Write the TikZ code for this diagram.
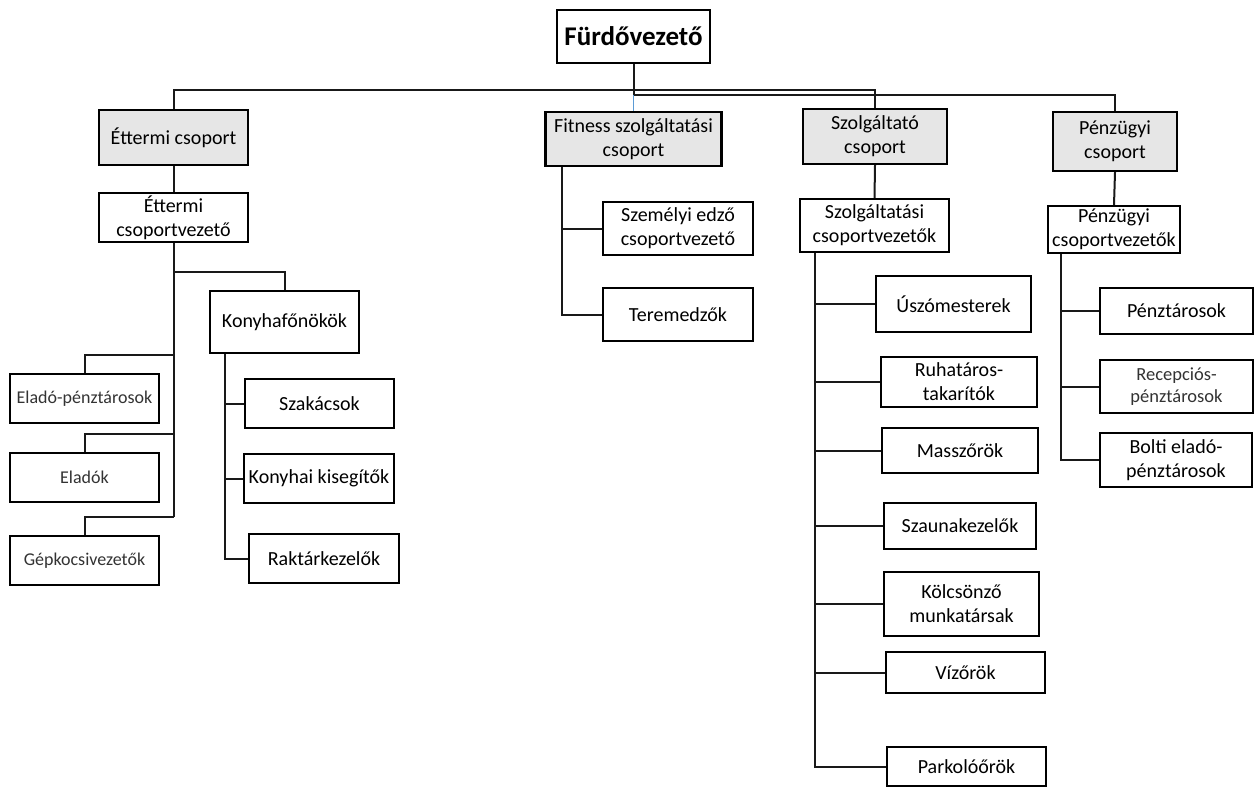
\documentclass[tikz,border=0pt]{standalone}
\usepackage{fontspec}
\setmainfont{Carlito}
\definecolor{grpfill}{HTML}{E6E6E6}
\definecolor{linkblue}{HTML}{5B9BD5}
\definecolor{softtext}{HTML}{333333}
\tikzset{
  box/.style={draw=black, line width=2.2pt, fill=white, align=center, inner sep=0pt,
    font=\fontsize{20}{24}\selectfont},
  grp/.style={box, fill=grpfill},
  small/.style={font=\fontsize{18}{22}\selectfont, text=softtext},
  link/.style={draw=black!90, line width=2pt},
}
\begin{document}
\begin{tikzpicture}[x=1pt,y=-1pt]
\useasboundingbox (0,0) rectangle (1255,788);

% top level
\node[box, font=\bfseries\fontsize{27}{31}\selectfont, minimum width=153pt, minimum height=53pt] (root) at (633.5,36.5) {Fürdővezető};

% groups
\node[grp, minimum width=149pt, minimum height=55pt] (g1) at (173.5,137.5) {Éttermi csoport};
\node[grp, minimum width=176pt, minimum height=54pt] (g2) at (633.5,139) {Fitness szolgáltatási\\csoport};
\node[grp, minimum width=144pt, minimum height=55pt] (g3) at (875,136.5) {Szolgáltató\\csoport};
\node[grp, minimum width=124pt, minimum height=59pt] (g4) at (1115,141.5) {Pénzügyi\\csoport};

% restaurant branch
\node[box, minimum width=149pt, minimum height=49pt] (e0) at (173.5,217.5) {Éttermi\\csoportvezető};
\node[box, minimum width=149pt, minimum height=62pt] (k0) at (284.5,322) {Konyhafőnökök};
\node[box, minimum width=149pt, minimum height=49pt] (k1) at (319.5,403.5) {Szakácsok};
\node[box, minimum width=150pt, minimum height=49pt] (k2) at (319,478.5) {Konyhai kisegítők};
\node[box, minimum width=150pt, minimum height=49pt] (k3) at (324,558.5) {Raktárkezelők};
\node[box, small, minimum width=149pt, minimum height=49pt] (e1) at (84.5,398.5) {Eladó-pénztárosok};
\node[box, small, minimum width=149pt, minimum height=49pt] (e2) at (84.5,477.5) {Eladók};
\node[box, small, minimum width=149pt, minimum height=49pt] (e3) at (84.5,560.5) {Gépkocsivezetők};

% fitness branch
\node[box, minimum width=150pt, minimum height=53pt] (f1) at (678,228.5) {Személyi edző\\csoportvezető};
\node[box, minimum width=150pt, minimum height=53pt] (f2) at (678,314.5) {Teremedzők};

% service branch
\node[box, minimum width=149pt, minimum height=53pt] (s0) at (874.5,225.5) {Szolgáltatási\\csoportvezetők};
\node[box, minimum width=155pt, minimum height=56pt] (s1) at (953.5,304) {Úszómesterek};
\node[box, minimum width=156pt, minimum height=50pt] (s2) at (959,382) {Ruhatáros-\\takarítók};
\node[box, minimum width=156pt, minimum height=45pt] (s3) at (960,450.5) {Masszőrök};
\node[box, minimum width=152pt, minimum height=46pt] (s4) at (960,526) {Szaunakezelők};
\node[box, minimum width=155pt, minimum height=64pt] (s5) at (961.5,604) {Kölcsönző\\munkatársak};
\node[box, minimum width=159pt, minimum height=41pt] (s6) at (965.5,672.5) {Vízőrök};
\node[box, minimum width=159pt, minimum height=39pt] (s7) at (966.5,766.5) {Parkolóőrök};

% finance branch
\node[box, minimum width=132pt, minimum height=47pt] (p0) at (1114,229.5) {Pénzügyi\\csoportvezetők};
\node[box, minimum width=153pt, minimum height=46pt] (p1) at (1176.5,311) {Pénztárosok};
\node[box, small, font=\fontsize{18.5}{22}\selectfont, minimum width=153pt, minimum height=53pt] (p2) at (1176.5,386.5) {Recepciós-\\pénztárosok};
\node[box, minimum width=152pt, minimum height=54pt] (p3) at (1176,460) {Bolti eladó-\\pénztárosok};

% bus levels and bracket columns
\coordinate (busA) at (0,90);
\coordinate (busB) at (0,95);
\coordinate (jk) at (0,272);
\coordinate (j1) at (0,355);
\coordinate (j2) at (0,434);
\coordinate (j3) at (0,517);
\coordinate (kx) at (225,0);
\coordinate (fx) at (562,0);
\coordinate (sx) at (815,0);
\coordinate (px) at (1061,0);

% top distribution
\draw[link] (root.south) -- (root.south |- busB);
\draw[link] (g1.north) |- (g3.north |- busA) -- (g3.north);
\draw[link] (root.south |- busB) -| (g4.north);
\draw[draw=linkblue, line width=1.3pt] (root.south |- busB) -- (g2.north);

% restaurant
\draw[link] (g1.south) -- (e0.north);
\draw[link] (e0.south) -- (e0.south |- j3);
\draw[link] (e0.south |- jk) -| (k0.north);
\draw[link] (e0.south |- j1) -| (e1.north);
\draw[link] (e0.south |- j2) -| (e2.north);
\draw[link] (e0.south |- j3) -| (e3.north);
\draw[link] (kx |- k0.south) |- (k3.west);
\draw[link] (kx |- k1.west) -- (k1.west);
\draw[link] (kx |- k2.west) -- (k2.west);

% fitness
\draw[link] (fx |- g2.south) |- (f2.west);
\draw[link] (fx |- f1.west) -- (f1.west);

% service
\draw[link] (g3.south) -- (s0.north);
\draw[link] (sx |- s0.south) |- (s7.west);
\foreach \n in {s1,s2,s3,s4,s5,s6} \draw[link] (sx |- \n.west) -- (\n.west);

% finance
\draw[link] (g4.south) -- (p0.north);
\draw[link] (px |- p0.south) |- (p3.west);
\foreach \n in {p1,p2} \draw[link] (px |- \n.west) -- (\n.west);
\end{tikzpicture}
\end{document}
